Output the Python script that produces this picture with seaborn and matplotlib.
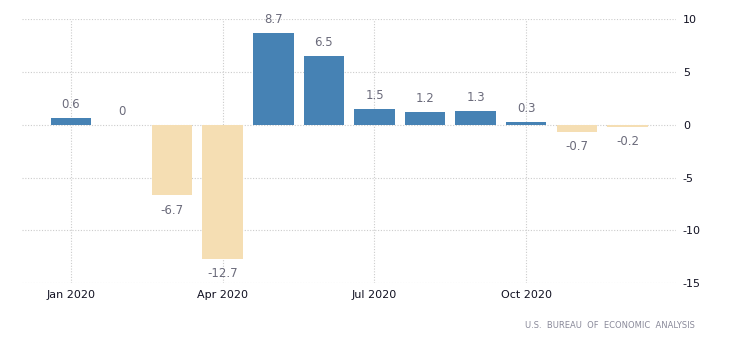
import matplotlib
matplotlib.use("Agg")
import matplotlib.pyplot as plt
import seaborn as sns
import pandas as pd

months = ["Jan 2020", "Feb 2020", "Mar 2020", "Apr 2020", "May 2020", "Jun 2020",
          "Jul 2020", "Aug 2020", "Sep 2020", "Oct 2020", "Nov 2020", "Dec 2020"]
values = [0.6, 0, -6.7, -12.7, 8.7, 6.5, 1.5, 1.2, 1.3, 0.3, -0.7, -0.2]
labels = ["0.6", "0", "-6.7", "-12.7", "8.7", "6.5", "1.5", "1.2", "1.3", "0.3", "-0.7", "-0.2"]
tick_labels = ["Jan 2020", "Apr 2020", "Jul 2020", "Oct 2020"]
y_ticks = [10, 5, 0, -5, -10, -15]
source = "U.S.  BUREAU  OF  ECONOMIC  ANALYSIS"

sns.set_style("white")
plt.rcParams['font.family'] = ['DejaVu Sans']

df = pd.DataFrame({"month": months, "value": values,
                   "sign": ["pos" if v >= 0 else "neg" for v in values]})

fig = plt.figure(figsize=(7.3, 3.47), dpi=100)
ax = fig.add_axes([0.030, 0.184, 0.896, 0.761])

sns.barplot(data=df, x="month", y="value", hue="sign",
            palette={"pos": "#4682B4", "neg": "#F5DEB3"},
            dodge=False, legend=False, width=0.8, ax=ax, saturation=1,
            edgecolor="none", linewidth=0)

ax.set_xlim(-0.97, 11.96)
ax.set_ylim(-15, 10)

for i, (v, lab) in enumerate(zip(values, labels)):
    if v >= 0:
        ax.annotate(lab, (i, v), xytext=(0, 5), textcoords="offset points",
                    ha="center", va="bottom", fontsize=8.5, color="#6b6b7b")
    else:
        ax.annotate(lab, (i, v), xytext=(0, -6), textcoords="offset points",
                    ha="center", va="top", fontsize=8.5, color="#6b6b7b")

ax.set_xticks([months.index(t) for t in tick_labels])
ax.set_xticklabels(tick_labels, fontsize=8, color="#111122")
ax.set_yticks(y_ticks)
ax.set_yticklabels([str(t) for t in y_ticks], fontsize=8, color="#111122")
ax.yaxis.tick_right()
ax.tick_params(axis="both", length=0, pad=5)
ax.set_xlabel("")
ax.set_ylabel("")
for s in ax.spines.values():
    s.set_visible(False)
ax.grid(True, color="#cccccc", linestyle=(0, (1, 1.5)), linewidth=0.8)
ax.set_axisbelow(True)

fig.text(0.952, 0.062, source, ha="right", va="center", fontsize=6, color="#8a8a9a")

fig.savefig("out.png", dpi=100)
